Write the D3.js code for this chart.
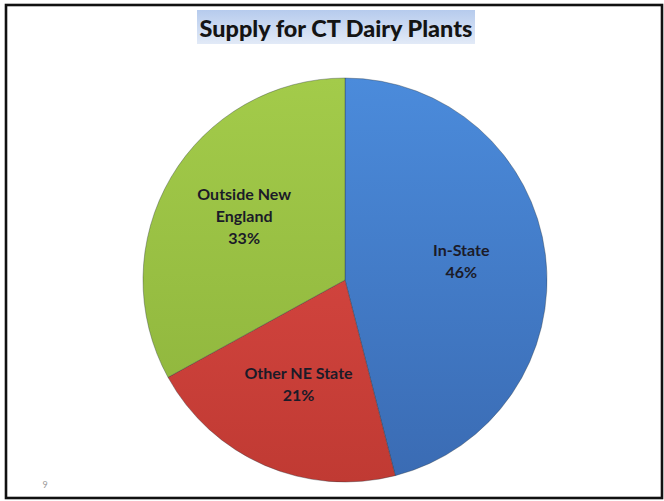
<!DOCTYPE html>
<html>
<head>
<meta charset="utf-8">
<script src="https://cdn.jsdelivr.net/npm/d3@7/dist/d3.min.js"></script>
<style>
html,body{margin:0;padding:0;background:#fff;}
svg{display:block;}
</style>
</head>
<body>
<script>
// ---- data ----
const categories = ["In-State", "Other NE State", "Outside New England"];
const labelLines = [["In-State"], ["Other NE State"], ["Outside New", "England"]];
const values = [46, 21, 33];
const title = "Supply for CT Dairy Plants";
const slideNumber = "9";

// ---- styles ----
const W = 664, H = 501;
const colorsTop = ["#4b8bdb", "#e04c47", "#a3cb4a"];
const colorsBot = ["#3a6bb3", "#c03a33", "#8cb23b"];
const fontFamily = "Lato, 'Open Sans', 'DejaVu Sans', sans-serif";

const svg = d3.select("body").append("svg").attr("width", W).attr("height", H);
const defs = svg.append("defs");

// slide border
svg.append("rect").attr("x", 6).attr("y", 5).attr("width", 656).attr("height", 493)
  .attr("fill", "#fff").attr("stroke", "#111").attr("stroke-width", 2.6);

// title highlight
const tg = defs.append("linearGradient").attr("id", "tbg").attr("x1", 0).attr("y1", 0).attr("x2", 0).attr("y2", 1);
tg.append("stop").attr("offset", "0%").attr("stop-color", "#b6cbed");
tg.append("stop").attr("offset", "100%").attr("stop-color", "#e2eaf7");
svg.append("rect").attr("x", 197).attr("y", 10).attr("width", 278).attr("height", 34).attr("fill", "url(#tbg)");

const tt = svg.append("text").attr("x", 336).attr("y", 37).attr("text-anchor", "middle")
  .attr("font-family", fontFamily).attr("font-weight", 900).attr("font-size", 22)
  .attr("fill", "#141414").text(title);
// fit title width to the reference
const tw = tt.node().getComputedTextLength();
tt.attr("font-size", 22 * 273 / tw);

// slide number
svg.append("text").attr("x", 45).attr("y", 488).attr("text-anchor", "middle")
  .attr("font-family", fontFamily).attr("font-size", 9).attr("fill", "#9a9a9a").text(slideNumber);

// ---- pie ----
const cx = 345, cy = 280, r = 202;
const g = svg.append("g").attr("transform", `translate(${cx},${cy})`);

const pie = d3.pie().sort(null).value(d => d)(values);
const arc = d3.arc().innerRadius(0).outerRadius(r);
const labelArc = d3.arc().innerRadius(r * 0.58).outerRadius(r * 0.58);

values.forEach((v, i) => {
  const lg = defs.append("linearGradient").attr("id", "sg" + i)
    .attr("gradientUnits", "userSpaceOnUse").attr("x1", 0).attr("y1", -r).attr("x2", 0).attr("y2", r);
  lg.append("stop").attr("offset", "0%").attr("stop-color", colorsTop[i]);
  lg.append("stop").attr("offset", "100%").attr("stop-color", colorsBot[i]);
});

g.selectAll("path.slice").data(pie).join("path").attr("class", "slice")
  .attr("d", arc).attr("fill", (d, i) => `url(#sg${i})`)
  .attr("stroke", "rgba(40,50,60,0.45)").attr("stroke-width", 0.8).attr("stroke-linejoin", "round");

// labels
const lineH = 22;
const lab = g.selectAll("text.lab").data(pie).join("text").attr("class", "lab")
  .attr("text-anchor", "middle").attr("font-family", fontFamily).attr("font-weight", "bold")
  .attr("font-size", 16).attr("fill", "#1b1b28")
  .attr("transform", d => { const c = labelArc.centroid(d); return `translate(${c[0]},${c[1]})`; });

lab.each(function(d, i) {
  const lines = labelLines[i].concat([values[i] + "%"]);
  const n = lines.length;
  const t = d3.select(this);
  lines.forEach((s, k) => {
    t.append("tspan").attr("x", 0).attr("y", (k - (n - 1) / 2) * lineH + 2).text(s);
  });
});
</script>
</body>
</html>
